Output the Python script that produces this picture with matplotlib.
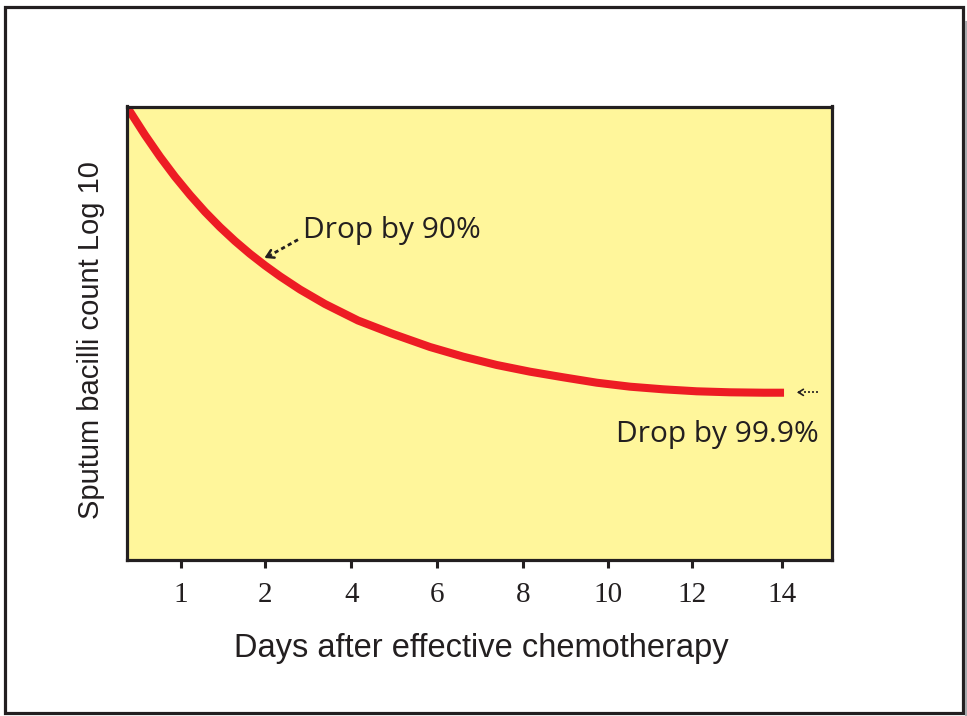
import matplotlib
matplotlib.use("Agg")
import matplotlib.pyplot as plt
from matplotlib.patches import Rectangle
from matplotlib.lines import Line2D

# Data (x in evenly spaced tick units, y in relative log units)
day_labels = ["1", "2", "4", "6", "8", "10", "12", "14"]
day_pos = [0, 0.98, 1.98, 2.98, 3.98, 4.97, 5.94, 6.99]
curve_x = [-0.628, -0.419, -0.244, -0.070, 0.105, 0.279, 0.453, 0.628, 0.802,
           0.977, 1.151, 1.384, 1.674, 2.058, 2.450, 2.895, 3.283, 3.671, 4.058,
           4.445, 4.834, 5.221, 5.608, 5.997, 6.384, 6.771, 7.012]
curve_y = [9.989, 9.371, 8.890, 8.450, 8.046, 7.675, 7.338, 7.029, 6.748,
           6.490, 6.252, 5.960, 5.640, 5.276, 4.989, 4.691, 4.477, 4.294, 4.146,
           4.022, 3.903, 3.815, 3.757, 3.713, 3.691, 3.682, 3.682]

dark = "#231f20"
red = "#ed1c24"
yellow = "#fff69b"

fig = plt.figure(figsize=(9.67, 7.16), dpi=100)
fig.patch.set_facecolor("white")

# outer frame with a faint shadow on the right
fig.add_artist(Line2D([965.5 / 967, 965.5 / 967], [1 - 22 / 716, 1 - 714 / 716],
                      transform=fig.transFigure, color="#a7a9ac", lw=2.2))
fig.add_artist(Rectangle((4.5 / 967, 1 - 712.5 / 716), 958 / 967, 706 / 716,
                         transform=fig.transFigure, fill=False, ec=dark, lw=2.3))

ax = fig.add_axes([126.5 / 967, (716 - 559.5) / 716, 705 / 967, 453 / 716])
ax.set_facecolor(yellow)
ax.plot(curve_x, curve_y, color=red, lw=5.8, solid_capstyle="butt", solid_joinstyle="round")
ax.set_xlim(-0.634, 7.564)
ax.set_ylim(0, 10)

for s in ax.spines.values():
    s.set_linewidth(2.3)
    s.set_color(dark)

ax.set_xticks(day_pos)
ax.set_xticklabels(day_labels, fontfamily="Liberation Serif", fontsize=21, color=dark)
ax.set_yticks([])
ax.tick_params(axis="x", direction="out", length=6, width=2.2, color=dark, pad=10)

# annotations
ax.text(1.42, 7.26, "Drop by 90%", fontfamily="Open Sans", fontsize=21.5,
        color=dark, ha="left", va="center")
ax.plot([1.36, 1.03], [7.06, 6.71], color=dark, lw=2, ls=(0, (1.5, 1.2)))
ax.annotate("", xy=(0.94, 6.63), xytext=(1.06, 6.74),
            arrowprops=dict(arrowstyle="->,head_length=0.5,head_width=0.3", color=dark, lw=1.8))

ax.text(7.41, 2.77, "Drop by 99.9%", fontfamily="Open Sans", fontsize=21.5,
        color=dark, ha="right", va="center")
ax.plot([7.41, 7.22], [3.69, 3.69], color=dark, lw=1.2, ls=(0, (1.2, 1.2)))
ax.annotate("", xy=(7.13, 3.69), xytext=(7.23, 3.69),
            arrowprops=dict(arrowstyle="->,head_length=0.35,head_width=0.22", color=dark, lw=1.2))

fig.text(481 / 967, 1 - 649 / 716, "Days after effective chemotherapy",
         fontfamily="Liberation Sans", fontsize=23.5, color=dark, ha="center", va="center")
fig.text(91 / 967, 1 - 340 / 716, "Sputum bacilli count Log 10",
         fontfamily="Liberation Sans", fontsize=21, color=dark, ha="center", va="center",
         rotation=90)

fig.savefig("out.png", dpi=100)
